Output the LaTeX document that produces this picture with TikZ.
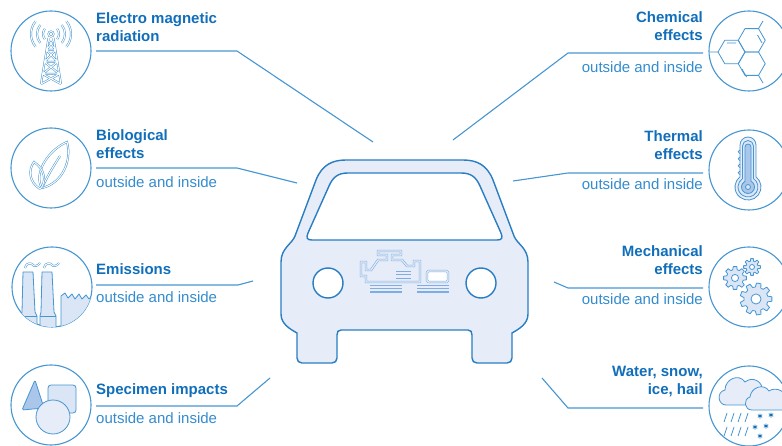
\documentclass[tikz,border=0pt]{standalone}
\usepackage{fontspec}
\setmainfont{Liberation Sans}
\definecolor{headblue}{RGB}{16,110,186}
\definecolor{subblue}{RGB}{52,140,206}
\definecolor{lineblue}{RGB}{70,150,210}
\definecolor{carline}{RGB}{40,125,195}
\definecolor{carfill}{RGB}{231,237,248}
\definecolor{iconpale}{RGB}{218,229,245}
\definecolor{icondark}{RGB}{170,198,234}
\definecolor{englight}{RGB}{125,173,226}
\tikzstyle{ring} = [draw=lineblue, line width=1.1pt, fill=white, shape=circle, minimum size=80pt, inner sep=0pt]
\tikzstyle{lamp} = [draw=carline, line width=1.4pt, fill=white, shape=circle, minimum size=30pt, inner sep=0pt]
\tikzstyle{lead} = [draw=lineblue, line width=1.1pt]
\tikzstyle{body} = [draw=carline, line width=1.4pt, fill=carfill]
\tikzstyle{ico} = [draw=lineblue, line width=0.8pt, line join=round]
\tikzstyle{icod} = [draw=lineblue, line width=0.5pt, double=white, double distance=1pt]
\tikzstyle{eng} = [draw=englight, line width=0.6pt, double=carfill, double distance=1.2pt]
\tikzstyle{head} = [font=\bfseries\fontsize{15}{18.5}\selectfont, text=headblue, inner sep=0pt]
\tikzstyle{sub} = [font=\fontsize{15}{18}\selectfont, text=subblue, inner sep=0pt]
\newcommand{\cogwheel}[5]{%
  \pgfmathsetmacro{\cogstep}{360/#5}
  \draw[ico, fill=iconpale, shift={(#1,#2)}] ({-0.2*\cogstep}:#4)
    \foreach \k in {1,...,#5} {
      -- ({(\k-1+0.2)*\cogstep}:#4) -- ({(\k-1+0.34)*\cogstep}:#3)
      -- ({(\k-1+0.66)*\cogstep}:#3) -- ({(\k-0.2)*\cogstep}:#4)
    } -- cycle;
  \draw[ico, fill=white, shift={(#1,#2)}] (0,0) circle[radius=0.42*#3];
}
\begin{document}
\begin{tikzpicture}[x=1pt,y=-1pt]
\useasboundingbox (0,0) rectangle (782,446);
\clip (0,0) rectangle (782,446);

% car
\draw[body] (404.5,160) -- (346,160) .. controls (332,160) and (322,165) .. (316,180)
  -- (295,236) .. controls (292,244) and (281,248) .. (281,262) -- (281,314)
  .. controls (281,324) and (290,329) .. (297,333) -- (297,358)
  .. controls (297,361) and (299,363) .. (302,363) -- (332,363)
  .. controls (335,363) and (337,361) .. (337,358) -- (337,335)
  .. controls (337,332) and (338,330) .. (341,330) -- (468,330)
  .. controls (471,330) and (472,332) .. (472,335) -- (472,358)
  .. controls (472,361) and (474,363) .. (477,363) -- (507,363)
  .. controls (510,363) and (512,361) .. (512,358) -- (512,333)
  .. controls (519,329) and (528,324) .. (528,314) -- (528,262)
  .. controls (528,248) and (517,244) .. (514,236) -- (493,180)
  .. controls (487,165) and (477,160) .. (463,160) -- cycle;
\draw[body, fill=white] (404.5,173) -- (348,173) .. controls (338,173) and (333,177) .. (329,186)
  -- (308,233) .. controls (306,238) and (307,240) .. (312,240) -- (497,240)
  .. controls (502,240) and (503,238) .. (501,233) -- (480,186)
  .. controls (476,177) and (471,173) .. (461,173) -- cycle;
\node[lamp] (lampl) at (328,283) {};
\node[lamp] (lampr) at (481,283) {};

% engine
\draw[eng] (361,262) -- (366,262) -- (366,270) -- (371,270) -- (378,260) -- (387,260)
  -- (387,255) -- (378,255) -- (378,251) -- (401,251) -- (401,255) -- (392,255)
  -- (392,260) -- (402,260) -- (407,266) -- (414,266) -- (414,261) -- (420,261)
  -- (420,282) -- (366,282) -- (366,276) -- (361,276) -- cycle;
\draw[englight, line width=0.9pt] (396,271) -- (411,271) (396,274.5) -- (411,274.5) (396,278) -- (411,278);
\draw[eng, fill=white, rounded corners=1.5pt] (427,271) rectangle (448,282);
\draw[englight, line width=1.3pt] (370,285.5) -- (402,285.5) (370,288.5) -- (402,288.5) (370,292) -- (402,292)
  (417,285.5) -- (449,285.5) (417,288.5) -- (449,288.5) (417,292) -- (449,292);

% leaders
\coordinate (emr-a) at (96,51);   \coordinate (emr-k) at (237,51);  \coordinate (emr-e) at (373,142);
\coordinate (bio-a) at (96,168);  \coordinate (bio-k) at (237,168); \coordinate (bio-e) at (297,183);
\coordinate (emi-a) at (96,285);  \coordinate (emi-k) at (238,285); \coordinate (emi-e) at (253,281);
\coordinate (spc-a) at (96,406);  \coordinate (spc-k) at (237,406); \coordinate (spc-e) at (270,378);
\coordinate (che-a) at (703,53);  \coordinate (che-k) at (568,53);  \coordinate (che-e) at (453,140);
\coordinate (the-a) at (703,173); \coordinate (the-k) at (568,173); \coordinate (the-e) at (513,181);
\coordinate (mec-a) at (703,288); \coordinate (mec-k) at (568,288); \coordinate (mec-e) at (554,282);
\coordinate (wat-a) at (703,408); \coordinate (wat-k) at (568,408); \coordinate (wat-e) at (542,378);
\foreach \n in {emr,bio,emi,spc,che,the,mec,wat}
  \draw[lead] (\n-a) -- (\n-k) -- (\n-e);

% labels
\node[head, align=left, anchor=base west] (emr-t) at (96,42) {Electro magnetic\\radiation};
\node[head, align=left, anchor=base west] (bio-t) at (96,159) {Biological\\effects};
\node[head, anchor=base west] (emi-t) at (96,275) {Emissions};
\node[head, anchor=base west] (spc-t) at (96,395) {Specimen impacts};
\node[head, align=right, anchor=base east] (che-t) at (703,41) {Chemical\\effects};
\node[head, align=right, anchor=base east] (the-t) at (703,160) {Thermal\\effects};
\node[head, align=right, anchor=base east] (mec-t) at (703,275) {Mechanical\\effects};
\node[head, align=right, anchor=base east] (wat-t) at (703,395) {Water, snow,\\ice, hail};
\node[sub, anchor=base west] (bio-s) at (96,188) {outside and inside};
\node[sub, anchor=base west] (emi-s) at (96,303) {outside and inside};
\node[sub, anchor=base west] (spc-s) at (96,423) {outside and inside};
\node[sub, anchor=base east] (che-s) at (703,73) {outside and inside};
\node[sub, anchor=base east] (the-s) at (703,190) {outside and inside};
\node[sub, anchor=base east] (mec-s) at (703,305) {outside and inside};

% icon rings
\node[ring] (emr) at (51,51) {};
\node[ring] (bio) at (51,168) {};
\node[ring] (emi) at (52,287) {};
\node[ring] (spc) at (51,405) {};
\node[ring] (che) at (749,51) {};
\node[ring] (the) at (749,170) {};
\node[ring] (mec) at (749,287) {};
\node[ring] (wat) at (749,406) {};

% tower
\draw[icod] (48.5,38) -- (41,84) (53.5,38) -- (61,84)
  (46.5,50) -- (55.5,50) (44.6,62) -- (57.4,62) (42.6,74) -- (59.4,74)
  (48.5,40) -- (55.5,50) (53.5,40) -- (46.5,50)
  (46.5,50) -- (57.4,62) (55.5,50) -- (44.6,62)
  (44.6,62) -- (59.4,74) (57.4,62) -- (42.6,74)
  (42.6,74) -- (61,84) (59.4,74) -- (41,84);
\draw[icod] (51,34) circle[radius=2.5pt];
\foreach \r in {8,14,20} {
  \draw[icod] (51,34) ++(-40:\r) arc (-40:40:\r);
  \draw[icod] (51,34) ++(140:\r) arc (140:220:\r);
}

% leaves
\draw[icod] (42,188) .. controls (33,174) and (48,150) .. (67,142) .. controls (72,160) and (63,183) .. (42,188);
\draw[icod] (42,188) .. controls (48,175) and (53,167) .. (60,156);
\draw[icod] (40,189) .. controls (29,182) and (28,170) .. (34,162) .. controls (45,169) and (47,182) .. (40,189);

% factory
\begin{scope}
  \clip (emi.center) circle[radius=40pt];
  \draw[ico, fill=iconpale] (61,332) -- (61,296) -- (65,293) -- (68,298) -- (72,294) -- (75,299)
    -- (79,294) -- (82,299) -- (86,295) -- (89,299) -- (93,295) -- (93,332) -- cycle;
  \draw[ico, fill=iconpale] (23,272) -- (33,272) -- (35,312) -- (37,316) -- (37,332) -- (21,332) -- (21,316) -- (22,312) -- cycle;
  \draw[ico, fill=iconpale] (42,272) -- (52,272) -- (54,312) -- (56,316) -- (56,332) -- (40,332) -- (40,316) -- (41,312) -- cycle;
  \draw[ico] (21,316) -- (37,316) (40,316) -- (56,316);
  \draw[icod] (25,268) .. controls (26,262) and (32,263) .. (33,265) .. controls (34,267) and (38,266) .. (40,263);
  \draw[icod] (44,268) .. controls (45,262) and (51,263) .. (52,265) .. controls (53,267) and (57,266) .. (59,263);
\end{scope}

% specimen shapes
\draw[ico, fill=icondark, rounded corners=1.5pt] (35,380) -- (22,410) -- (44,408) -- cycle;
\draw[ico, fill=iconpale, rounded corners=3pt] (48,385) rectangle (76,413);
\draw[ico, fill=carfill] (53,417) circle[radius=17pt];

% molecule
\foreach \c in {(731.5,52),(751.75,40.31),(751.75,63.69)}
  \draw[ico, shift={\c}] (0:13.5) -- (60:13.5) -- (120:13.5) -- (180:13.5) -- (240:13.5) -- (300:13.5) -- cycle;
\draw[ico] (718,52) -- (710,52) (758.5,28.6) -- (763,21) (758.5,75.4) -- (763,83)
  (727,43) -- (736,43) (762,43) -- (757.5,35) (742,69) -- (746.5,77);

% thermometer
\draw[ico, fill=carfill] (740,175) -- (740,145) arc (180:360:8) -- (756,176.8) arc (-52:232:13) -- cycle;
\draw[ico, fill=iconpale] (742.5,178) -- (742.5,146) arc (180:360:5.5) -- (753.5,178.6) arc (-56.6:236.6:10) -- cycle;
\draw[ico, fill=icondark] (745,181.5) -- (745,147) arc (180:360:3) -- (751,181.2) arc (-62.5:242.5:6.5) -- cycle;
\draw[ico, fill=iconpale] (748,187) circle[radius=2.5pt];
\foreach \y in {150,157,164,171}
  \draw[ico] (740,\y) arc (270:90:1.8);

% gears
\cogwheel{735}{278}{8.5}{11.5}{8}
\cogwheel{752}{267}{6}{8.5}{8}
\cogwheel{756}{299}{12}{16}{9}

% weather
\draw[ico, fill=carfill] (726,405) .. controls (718,405) and (716,392) .. (725,390)
  .. controls (725,379) and (739,373) .. (745,382) .. controls (752,376) and (764,381) .. (762,392)
  .. controls (768,395) and (766,405) .. (758,405) -- cycle;
\draw[ico, fill=carfill] (752,410) .. controls (744,410) and (743,399) .. (750,397)
  .. controls (751,387) and (764,383) .. (769,391) .. controls (776,386) and (788,392) .. (785,400)
  -- (785,410) -- cycle;
\foreach \x in {724,731,738,745} {
  \draw[ico] (\x,422) -- (\x+3,413);
  \draw[ico] (\x,436) -- (\x+3,427);
}
\foreach \p in {(760,416),(771,415),(755,427),(766,426),(760,436)}
  \draw[headblue, line width=0.7pt, shift={\p}] (90:2.5) -- (270:2.5) (30:2.5) -- (210:2.5) (150:2.5) -- (330:2.5);
\end{tikzpicture}
\end{document}
